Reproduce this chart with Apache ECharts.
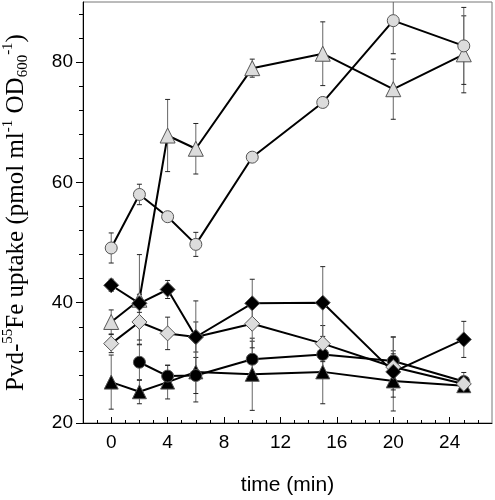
<!DOCTYPE html>
<html><head><meta charset="utf-8">
<script src="https://cdn.jsdelivr.net/npm/echarts@6/dist/echarts.min.js"></script>
<style>html,body{margin:0;padding:0;background:#fff}#c{width:495px;height:500px}</style>
</head><body><div id="c"></div>
<script>
var times = [0, 2, 4, 6, 10, 15, 20, 25];
var timesBC = [2, 4, 6, 10, 15, 20, 25];
var greyCircle = [49.1, 58.0, 54.3, 49.7, 64.2, 73.3, 86.9, 82.7];
var greyCircleErr = [2.5, 1.7, 0, 2.0, 0, 0, 5.5, 6.4];
var greyTriangle = [36.8, 40.5, 67.8, 65.6, 79.0, 81.4, 75.5, 81.3];
var greyTriangleErr = [2.0, 7.5, 6.0, 4.2, 1.5, 5.3, 5.0, 6.4];
var blackDiamond = [42.9, 39.9, 42.2, 34.3, 39.9, 40.0, 28.5, 33.9];
var blackDiamondErr = [1.0, 1.5, 1.5, 6.0, 4.0, 6.0, 3.0, 3.0];
var greyDiamond = [33.2, 36.8, 34.9, 34.3, 36.5, 33.2, 29.3, 26.5];
var greyDiamondErr = [1.5, 3.0, 2.7, 2.5, 4.0, 3.0, 5.0, 1.0];
var blackCircle = [30.1, 27.8, 27.9, 30.6, 31.4, 30.3, 26.9];
var blackCircleErr = [3.0, 1.8, 3.0, 3.0, 3.0, 4.0, 1.5];
var blackTriangle = [26.8, 25.2, 26.8, 28.5, 28.1, 28.5, 27.0, 26.2];
var blackTriangleErr = [4.5, 2.0, 2.8, 5.0, 6.0, 5.3, 5.0, 1.0];
var xTickLabels = [0, 4, 8, 12, 16, 20, 24];
var xMinorTicks = [-1,0,1,2,3,4,5,6,7,8,9,10,11,12,13,14,15,16,17,18,19,20,21,22,23,24,25,26];
var yTickLabels = [20, 40, 60, 80];
var yMinorTicks = [24, 28, 32, 36, 44, 48, 52, 56, 64, 68, 72, 76, 84, 88];

function pairs(xs, ys) { return xs.map(function (x, i) { return [x, ys[i]]; }); }
function errs(xs, ys, es) { return xs.map(function (x, i) { return [x, ys[i] - es[i], ys[i] + es[i]]; }); }

function renderErr(params, api) {
  var x = api.value(0), lo = api.value(1), hi = api.value(2);
  if (hi - lo < 0.01) return null;
  var p1 = api.coord([x, hi]), p2 = api.coord([x, lo]);
  var w = 2.5;
  return { type: 'group', children: [
    { type: 'line', shape: { x1: p1[0], y1: p1[1], x2: p2[0], y2: p2[1] }, style: { stroke: '#666', lineWidth: 1 } },
    { type: 'line', shape: { x1: p1[0] - w, y1: p1[1], x2: p1[0] + w, y2: p1[1] }, style: { stroke: '#222', lineWidth: 1 } },
    { type: 'line', shape: { x1: p2[0] - w, y1: p2[1], x2: p2[0] + w, y2: p2[1] }, style: { stroke: '#222', lineWidth: 1 } }
  ] };
}

var defs = [
  { d: greyTriangle, e: greyTriangleErr, x: times, sym: 'triangle', size: 15, fill: '#dcdcdc' },
  { d: greyCircle, e: greyCircleErr, x: times, sym: 'circle', size: 12, fill: '#dcdcdc' },
  { d: blackTriangle, e: blackTriangleErr, x: times, sym: 'triangle', size: 14, fill: '#000' },
  { d: blackCircle, e: blackCircleErr, x: timesBC, sym: 'circle', size: 12, fill: '#000' },
  { d: greyDiamond, e: greyDiamondErr, x: times, sym: 'diamond', size: 15, fill: '#dcdcdc' },
  { d: blackDiamond, e: blackDiamondErr, x: times, sym: 'diamond', size: 15, fill: '#000' }
];

var series = [];
defs.forEach(function (s) {
  series.push({ type: 'custom', xAxisIndex: 0, yAxisIndex: 0, renderItem: renderErr, clip: true, z: 1,
    data: errs(s.x, s.d, s.e), silent: true });
});
defs.forEach(function (s) {
  series.push({ type: 'line', xAxisIndex: 0, yAxisIndex: 0, data: pairs(s.x, s.d), symbol: s.sym,
    symbolSize: s.size, showAllSymbol: true, z: 3, animation: false,
    lineStyle: { color: '#000', width: 2 },
    itemStyle: { color: s.fill, borderColor: '#555', borderWidth: 1 } });
});

var font = "'Liberation Sans', Arial, sans-serif";
var chart = echarts.init(document.getElementById('c'), null, { renderer: 'canvas' });
chart.setOption({
  animation: false,
  grid: { left: 83, right: 3, top: 2, bottom: 77, show: true, borderColor: '#777', borderWidth: 1,
    containLabel: false, outerBoundsMode: 'none' },
  xAxis: [
    { type: 'value', min: -2, max: 27, position: 'bottom',
      name: 'time (min)', nameLocation: 'middle', nameGap: 52,
      nameTextStyle: { fontFamily: font, fontSize: 21, color: '#000' },
      axisLine: { onZero: false, lineStyle: { color: '#000', width: 1 } },
      axisTick: { inside: true, length: 6, customValues: xTickLabels, lineStyle: { color: '#000' } },
      axisLabel: { customValues: xTickLabels, fontFamily: font, fontSize: 19, color: '#000', margin: 10 },
      splitLine: { show: false } },
    { type: 'value', min: -2, max: 27, position: 'bottom',
      axisLine: { show: false, onZero: false },
      axisTick: { inside: true, length: 3, customValues: xMinorTicks, lineStyle: { color: '#000' } },
      axisLabel: { show: false }, splitLine: { show: false } }
  ],
  yAxis: [
    { type: 'value', min: 20, max: 90, position: 'left',
      name: 'Pvd-{sup|55}Fe uptake (pmol ml{sup|-1} OD{sub|600}{sup|-1})',
      nameLocation: 'middle', nameGap: 52, nameRotate: 90,
      nameTextStyle: { fontFamily: "'Liberation Serif', 'Times New Roman', serif", fontSize: 25, color: '#000', lineHeight: 30,
        rich: {
          sup: { fontFamily: "'Liberation Serif', serif", fontSize: 15, verticalAlign: 'top', lineHeight: 16, color: '#000' },
          sub: { fontFamily: "'Liberation Serif', serif", fontSize: 15, verticalAlign: 'bottom', lineHeight: 16, color: '#000' }
        } },
      axisLine: { show: true, onZero: false, lineStyle: { color: '#000', width: 1 } },
      axisTick: { show: true, inside: false, length: 7, customValues: yTickLabels, lineStyle: { color: '#000' } },
      axisLabel: { customValues: yTickLabels, fontFamily: font, fontSize: 19, color: '#000', margin: 10 },
      splitLine: { show: false } },
    { type: 'value', min: 20, max: 90, position: 'left',
      axisLine: { show: false, onZero: false },
      axisTick: { show: true, inside: false, length: 4, customValues: yMinorTicks, lineStyle: { color: '#000' } },
      axisLabel: { show: false }, splitLine: { show: false } }
  ],
  series: series
});
</script></body></html>
